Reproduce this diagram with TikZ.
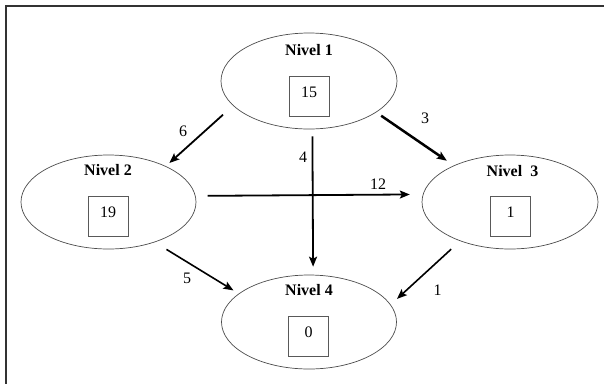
\documentclass[tikz,border=0pt]{standalone}
\usepackage{fontspec}
\setmainfont{Liberation Serif}
\usetikzlibrary{arrows.meta, shapes.geometric}

\begin{document}
\begin{tikzpicture}[
    x=1pt, y=-1pt,
    every node/.style={align=center, font=\fontsize{16}{19}\selectfont},
    level/.style={ellipse, draw=black!70, line width=0.7pt, inner sep=0pt, minimum width=176pt, minimum height=94pt},
    title/.style={anchor=base, font=\fontsize{16}{19}\selectfont\bfseries},
    count/.style={rectangle, draw=black!65, line width=0.8pt, inner sep=0pt, minimum size=40pt, text height=11pt, text depth=9pt},
    weight/.style={inner sep=0pt},
    arrow/.style={-{Stealth[length=10pt, width=8pt, inset=2pt]}, line width=1.8pt, draw=black},
    frame/.style={line width=1.8pt, draw=black!80}
]
    \useasboundingbox (0,0) rectangle (604,384);
    \draw[frame] (604,6) -- (6,6) -- (6,384);

    % Nodes - one ellipse per level
    \node[level, minimum height=96pt] (n1) at (309,81) {};
    \node[level, minimum width=175pt] (n2) at (108.5,202) {};
    \node[level] (n3) at (510,202) {};
    \node[level, minimum width=175pt] (n4) at (309,322) {};

    \node[title] (t1) at (309,55.5) {Nivel 1};
    \node[title] (t2) at (108,175.5) {Nivel 2};
    \node[title] (t3) at (512.5,176) {Nivel~~3};
    \node[title] (t4) at (309,295.5) {Nivel 4};

    \node[count] (b1) at (309,96) {15};
    \node[count] (b2) at (108,216) {19};
    \node[count] (b3) at (510.5,216) {1};
    \node[count] (b4) at (308.5,336.5) {0};

    % Arrows - between the levels
    \draw[arrow, shorten <=13.5pt, shorten >=4.7pt] (n1.198.4) -- (n2.32.7);
    \draw[arrow, line width=2.5pt, shorten <=6pt, shorten >=8.4pt] (n1.335.9) -- (n3.147.2);
    \draw[arrow, shorten <=7pt, shorten >=8pt] (n1.274.8) -- (n4.85.1);
    \draw[arrow, shorten <=12pt, shorten >=13pt] (n2.4.6) -- (n3.175.4);
    \draw[arrow, line width=1.6pt, shorten <=13.7pt, shorten >=6.2pt] (n2.319.8) -- (n4.158.6);
    \draw[arrow, line width=1.6pt, shorten <=12pt, shorten >=8.5pt] (n3.218.6) -- (n4.12.9);

    % Weights
    \node[weight] (w6) at (183,131.5) {6};
    \node[weight] (w3) at (425,118) {3};
    \node[weight] (w4) at (303,157) {4};
    \node[weight] (w12) at (378,184) {12};
    \node[weight] (w5) at (187,278) {5};
    \node[weight] (w1) at (437.5,290.5) {1};

\end{tikzpicture}
\end{document}
